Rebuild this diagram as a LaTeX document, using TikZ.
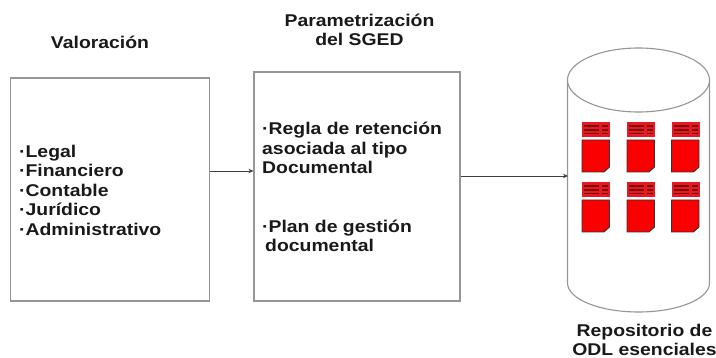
\documentclass[tikz,border=0pt]{standalone}
\usepackage{fontspec}
\setmainfont{Liberation Sans}[BoldFeatures={FakeStretch=1.14}]
\definecolor{edgegray}{RGB}{150,150,150}
\definecolor{docred}{RGB}{250,0,0}
\definecolor{headred}{RGB}{228,25,35}
\usetikzlibrary{arrows.meta}
\tikzset{
 panel/.style={draw=edgegray,line width=1.1pt,fill=white},
 flow/.style={draw=black!75,line width=.7pt,-{Stealth[length=5pt,width=4.5pt]}},
 lab/.style={font=\fontsize{17}{18.5}\selectfont\bfseries,align=center,text=black!90,inner sep=0pt},
 txt/.style={font=\fontsize{17}{19.5}\selectfont\bfseries,align=left,text=black!90,inner sep=0pt,anchor=west},
 dochead/.style={fill=headred,draw=none},
 docbody/.style={fill=docred,draw=black!80,line width=.9pt},
 docline/.style={draw=black!50!red,line width=1.2pt}
}
\newcommand{\odl}[2]{%
 \begin{scope}[shift={(#1,#2)}]
  \fill[dochead] (0,0) rectangle (28,15);
  \foreach \yy in {4,8,11.5}{
   \draw[docline] (2,\yy) -- (17,\yy);
   \draw[docline] (20,\yy) -- (26,\yy);
  }
  \draw[docbody] (0,18) -- (27.5,18) -- (27.5,45) -- (22,50) -- (0,50) -- cycle;
 \end{scope}}
\begin{document}
\begin{tikzpicture}[x=1pt,y=-1pt]
\useasboundingbox (0,0) rectangle (716,358);
\fill[white] (0,0) rectangle (716,358);
% boxes
\node[panel,minimum width=199pt,minimum height=223pt,inner sep=0pt] (val) at (110,189.5) {};
\node[panel,minimum width=206pt,minimum height=229pt,inner sep=0pt] (par) at (357,186.5) {};
% cylinder
\coordinate (cylIn) at (568,176);
\draw[panel] (567.5,80) -- (567.5,283) arc[start angle=180,end angle=0,x radius=71,y radius=29] -- (709.5,80);
\draw[panel] (638.5,80) ellipse [x radius=71,y radius=32];
\odl{582}{122}\odl{627}{122}\odl{671.5}{122}
\odl{582}{182}\odl{627}{182}\odl{671.5}{182}
% connectors
\draw[flow] (val.east |- 0,171) -- (par.west |- 0,171);
\draw[flow] (par.east |- 0,176) -- (cylIn);
% labels
\node[lab] (t1) at (100,42) {Valoración};
\node[lab,font=\fontsize{17}{19.5}\selectfont\bfseries] (t2) at (359.5,30) {Parametrización\\del SGED};
\node[lab] (t3) at (644.5,340) {Repositorio de\\ODL esenciales};
\node[txt] (l1) at (19,190) {·Legal\\·Financiero\\·Contable\\·Jurídico\\·Administrativo};
\node[txt] (r1) at (262,148) {·Regla de retención\\asociada al tipo\\Documental};
\node[txt] (r2) at (262,236) {·Plan de gestión\\\hspace*{3pt}documental};
\end{tikzpicture}
\end{document}
